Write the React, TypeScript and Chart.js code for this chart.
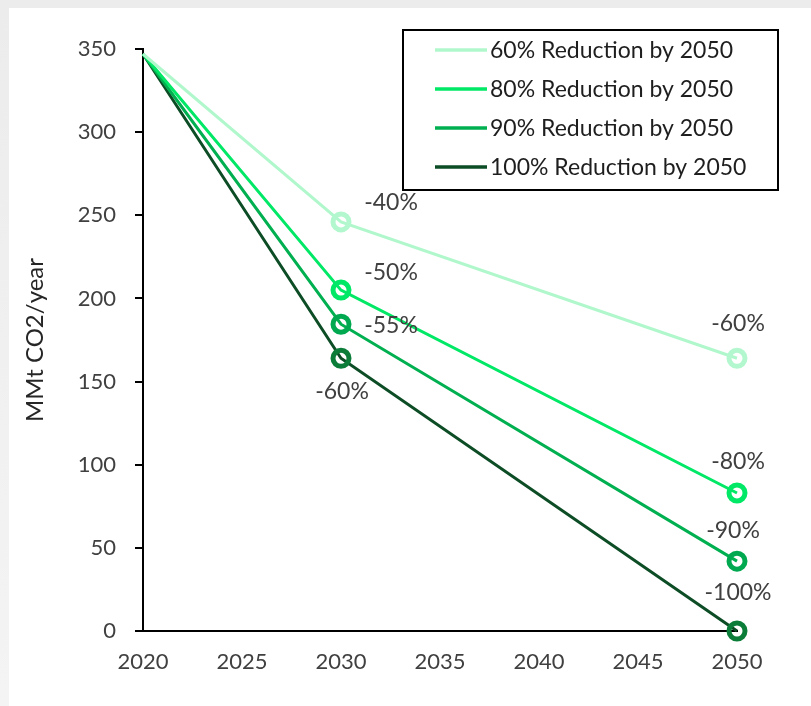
import React, { useEffect, useRef } from "react";
import { Chart, registerables } from "chart.js";

Chart.register(...registerables);

const years = [2020, 2030, 2050];
const seriesNames = [
  "60% Reduction by 2050",
  "80% Reduction by 2050",
  "90% Reduction by 2050",
  "100% Reduction by 2050",
];
const s60 = [347, 246, 164];
const s80 = [347, 205, 83];
const s90 = [347, 184.5, 42];
const s100 = [347, 164, 0];
const labels60 = ["", "-40%", "-60%"];
const labels80 = ["", "-50%", "-80%"];
const labels90 = ["", "-55%", "-90%"];
const labels100 = ["", "-60%", "-100%"];
const yTicks = [0, 50, 100, 150, 200, 250, 300, 350];
const xTicks = [2020, 2025, 2030, 2035, 2040, 2045, 2050];

const lineColors = ["#b0f7cc", "#00e865", "#00b050", "#0d4d26"];
const markerColors = ["#b3f7cf", "#00e865", "#00a850", "#0b7d38"];
const FONT = "Lato, 'Open Sans', sans-serif";

// label offsets (dx, dy) relative to point, per series per point
const labelOffsets = [
  [[0, 0], [50, -19], [1, -35]],
  [[0, 0], [50, -18], [1, -31]],
  [[0, 0], [50, 1], [-4, -31]],
  [[0, 0], [1, 33], [1, -38]],
];

const dataLabelPlugin = {
  id: "dataLabels",
  afterDatasetsDraw(chart: any) {
    const ctx = chart.ctx;
    const allLabels = [labels60, labels80, labels90, labels100];
    ctx.save();
    ctx.font = `23px ${FONT}`;
    ctx.fillStyle = "#404040";
    ctx.textAlign = "center";
    ctx.textBaseline = "middle";
    chart.data.datasets.forEach((ds: any, i: number) => {
      const meta = chart.getDatasetMeta(i);
      meta.data.forEach((pt: any, j: number) => {
        const t = allLabels[i][j];
        if (!t) return;
        const [dx, dy] = labelOffsets[i][j];
        ctx.fillText(t, pt.x + dx, pt.y + dy);
      });
    });
    ctx.restore();
  },
};

const legendPlugin = {
  id: "boxLegend",
  afterDraw(chart: any) {
    const ctx = chart.ctx;
    ctx.save();
    const bx = 394, by = 22, bw = 375, bh = 160;
    ctx.lineWidth = 2;
    ctx.strokeStyle = "#000";
    ctx.fillStyle = "#fff";
    ctx.fillRect(bx, by, bw, bh);
    ctx.strokeRect(bx, by, bw, bh);
    ctx.font = `23px ${FONT}`;
    ctx.textBaseline = "middle";
    ctx.textAlign = "left";
    chart.data.datasets.forEach((ds: any, i: number) => {
      const y = 42 + i * 39;
      ctx.strokeStyle = ds.borderColor;
      ctx.lineWidth = 3.5;
      ctx.beginPath();
      ctx.moveTo(426, y);
      ctx.lineTo(478, y);
      ctx.stroke();
      ctx.fillStyle = "#1e1e1e";
      ctx.fillText(ds.label, 481, y + 1);
    });
    ctx.restore();
  },
};

function makeDataset(label: string, values: number[], i: number) {
  return {
    label,
    data: years.map((x, k) => ({ x, y: values[k] })),
    borderColor: lineColors[i],
    borderWidth: 3,
    pointRadius: [0, 8, 8],
    pointBorderWidth: 5,
    pointBorderColor: markerColors[i],
    pointBackgroundColor: "rgba(0,0,0,0)",
    pointHoverRadius: [0, 8, 8],
    fill: false,
    tension: 0,
    clip: false,
  };
}

export default function App() {
  const ref = useRef<HTMLCanvasElement | null>(null);
  useEffect(() => {
    if (!ref.current) return;
    const chart = new Chart(ref.current, {
      type: "line",
      data: {
        datasets: [
          makeDataset(seriesNames[0], s60, 0),
          makeDataset(seriesNames[1], s80, 1),
          makeDataset(seriesNames[2], s90, 2),
          makeDataset(seriesNames[3], s100, 3),
        ],
      },
      options: {
        animation: false,
        responsive: false,
        maintainAspectRatio: false,
        layout: { padding: { left: 0, top: 41, right: 74, bottom: 0 } },
        plugins: {
          legend: { display: false },
          tooltip: { enabled: false },
        },
        scales: {
          x: {
            type: "linear",
            min: 2020,
            max: 2050,
            afterBuildTicks: (scale: any) => {
              scale.ticks = xTicks.map((v) => ({ value: v }));
            },
            afterFit: (scale: any) => {
              scale.height = 75;
            },
            grid: { display: false, drawTicks: false },
            border: { display: true, color: "#000", width: 2 },
            ticks: {
              padding: 18,
              color: "#404040",
              font: { family: FONT, size: 22 },
              maxRotation: 0,
              callback: (v: any) => String(v),
            },
          },
          y: {
            min: 0,
            max: 350,
            afterBuildTicks: (scale: any) => {
              scale.ticks = yTicks.map((v) => ({ value: v }));
            },
            afterFit: (scale: any) => {
              scale.width = 134;
            },
            grid: {
              display: true,
              drawOnChartArea: false,
              drawTicks: true,
              tickLength: 8,
              color: "#000",
              lineWidth: 2,
            },
            border: { display: true, color: "#000", width: 2 },
            ticks: {
              padding: 19,
              color: "#404040",
              font: { family: FONT, size: 22 },
            },
            title: {
              display: true,
              text: "MMt CO2/year",
              color: "#262626",
              font: { family: FONT, size: 24 },
              padding: { top: 12, bottom: 0 },
            },
          },
        },
      },
      plugins: [dataLabelPlugin, legendPlugin],
    } as any);
    return () => chart.destroy();
  }, []);

  return (
    <div
      style={{
        position: "fixed",
        left: 0,
        top: 0,
        width: 811,
        height: 706,
        background: "linear-gradient(to bottom, #ececec, #f4f4f4)",
      }}
    >
      <div
        style={{
          position: "absolute",
          left: 9,
          top: 8,
          width: 802,
          height: 698,
          background: "#fff",
        }}
      >
        <canvas ref={ref} width={802} height={698} style={{ display: "block" }} />
      </div>
    </div>
  );
}
